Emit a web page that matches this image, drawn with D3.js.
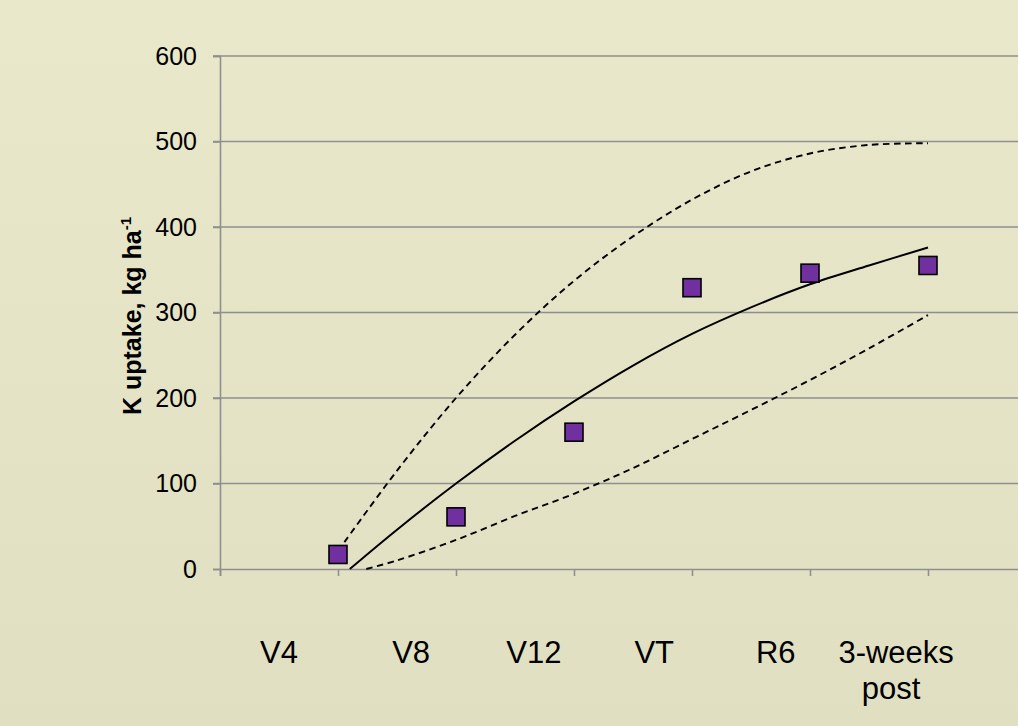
<!DOCTYPE html>
<html><head><meta charset="utf-8">
<script src="https://cdn.jsdelivr.net/npm/d3@7"></script>
<style>html,body{margin:0;padding:0;overflow:hidden;background:#e5e4c7}</style>
</head><body>
<svg id="c" width="1018" height="726"></svg>
<script>
const categories = ["V4", "V8", "V12", "VT", "R6", "3-weeks post"];
const stageX = [1, 2, 3, 4, 5, 6];
const observed = [17, 61, 160, 329, 346, 355];
const fitX = [1.1, 1.5, 2, 2.5, 3, 3.5, 4, 4.5, 5, 5.5, 6];
const fitY = [0, 46, 100, 150, 196, 238, 275, 306, 333, 355, 376];
const upperX = [1.0, 1.5, 2, 2.5, 3, 3.5, 4, 4.5, 5, 5.5, 6];
const upperY = [21, 115, 200, 274, 337, 389, 432, 465, 486, 496, 498];
const lowerX = [1.24, 1.5, 2, 2.5, 3, 3.5, 4, 4.5, 5, 5.5, 6];
const lowerY = [0, 10, 34, 62, 88, 118, 152, 186, 221, 258, 297];
const yTicks = [0, 100, 200, 300, 400, 500, 600];
const xTicks = [0, 1, 2, 3, 4, 5, 6, 7];

// layout: where each stage label's text box sits, in x-axis units
const labelCenters = [0.5, 1.62, 2.66, 3.68, 4.71, 5.73];

const svg = d3.select("#c");
const defs = svg.append("defs");
const grad = defs.append("linearGradient").attr("id","bg").attr("x1",0).attr("y1",0).attr("x2",0).attr("y2",1);
grad.append("stop").attr("offset","0%").attr("stop-color","#e9e8cb");
grad.append("stop").attr("offset","100%").attr("stop-color","#e0dfc2");
svg.append("rect").attr("width",1018).attr("height",726).attr("fill","url(#bg)");

const x = d3.scaleLinear().domain([0, 7]).range([220, 1046]);
const y = d3.scaleLinear().domain([0, 600]).range([569, 56]);
const labelScale = d3.scaleOrdinal().domain(categories).range(labelCenters.map(v => x(v)));

const font = "'Liberation Sans', Arial, sans-serif";
const gridColor = "#8f8f8f";

// gridlines
svg.append("g").selectAll("line").data(yTicks.filter(d => d > 0)).join("line")
  .attr("x1", 213).attr("x2", 1018)
  .attr("y1", d => y(d)).attr("y2", d => y(d))
  .attr("stroke", gridColor).attr("stroke-width", 1.6);

// y axis
const yAxis = svg.append("g").attr("transform", `translate(${x(0)},0)`)
  .call(d3.axisLeft(y).tickValues(yTicks).tickSize(7).tickPadding(16).tickFormat(d3.format("d")));
yAxis.select(".domain").attr("stroke", gridColor).attr("stroke-width", 1.6);
yAxis.selectAll(".tick line").attr("stroke", gridColor).attr("stroke-width", 1.6);
yAxis.selectAll(".tick text").attr("font-family", font).attr("font-size", 25).attr("fill", "#000");

// x axis
const xAxis = svg.append("g").attr("transform", `translate(0,${y(0)})`)
  .call(d3.axisBottom(x).tickValues(xTicks).tickSize(7).tickFormat(""));
xAxis.select(".domain").attr("stroke", gridColor).attr("stroke-width", 1.6);
xAxis.selectAll(".tick line").attr("stroke", gridColor).attr("stroke-width", 1.6);

// category labels
const cat = svg.append("g").selectAll("text").data(categories).join("text")
  .attr("x", d => labelScale(d)).attr("y", 663)
  .attr("text-anchor", "middle").attr("font-family", font).attr("font-size", 31).attr("fill", "#000");
cat.each(function(d) {
  const parts = d === "3-weeks post" ? ["3-weeks", "post"] : [d];
  const t = d3.select(this);
  parts.forEach((p, i) => {
    t.append("tspan").attr("x", labelScale(d) - (i ? 5 : 0)).attr("dy", i ? 36 : 0).text(p);
  });
});

// y title
const title = svg.append("text")
  .attr("transform", "translate(141,316) rotate(-90)")
  .attr("text-anchor", "middle").attr("font-family", font).attr("font-weight", "bold")
  .attr("font-size", 25).attr("fill", "#000");
title.append("tspan").text("K uptake, kg ha");
title.append("tspan").attr("font-size", 15).attr("dy", -10).text("-1");

// curves
const line = d3.line().x(d => x(d[0])).y(d => y(d[1])).curve(d3.curveCatmullRom.alpha(0.5));
const zip = (a, b) => a.map((v, i) => [v, b[i]]);
svg.append("path").datum(zip(upperX, upperY)).attr("d", line)
  .attr("fill", "none").attr("stroke", "#000").attr("stroke-width", 1.9).attr("stroke-dasharray", "6.5,4.5");
svg.append("path").datum(zip(lowerX, lowerY)).attr("d", line)
  .attr("fill", "none").attr("stroke", "#000").attr("stroke-width", 1.9).attr("stroke-dasharray", "6.5,4.5");
svg.append("path").datum(zip(fitX, fitY)).attr("d", line)
  .attr("fill", "none").attr("stroke", "#000").attr("stroke-width", 2);

// markers
const ms = 18;
svg.append("g").selectAll("rect").data(zip(stageX, observed)).join("rect")
  .attr("x", d => x(d[0]) - ms / 2).attr("y", d => y(d[1]) - ms / 2)
  .attr("width", ms).attr("height", ms)
  .attr("fill", "#7030a0").attr("stroke", "#000").attr("stroke-width", 1.6);
</script>
</body></html>
